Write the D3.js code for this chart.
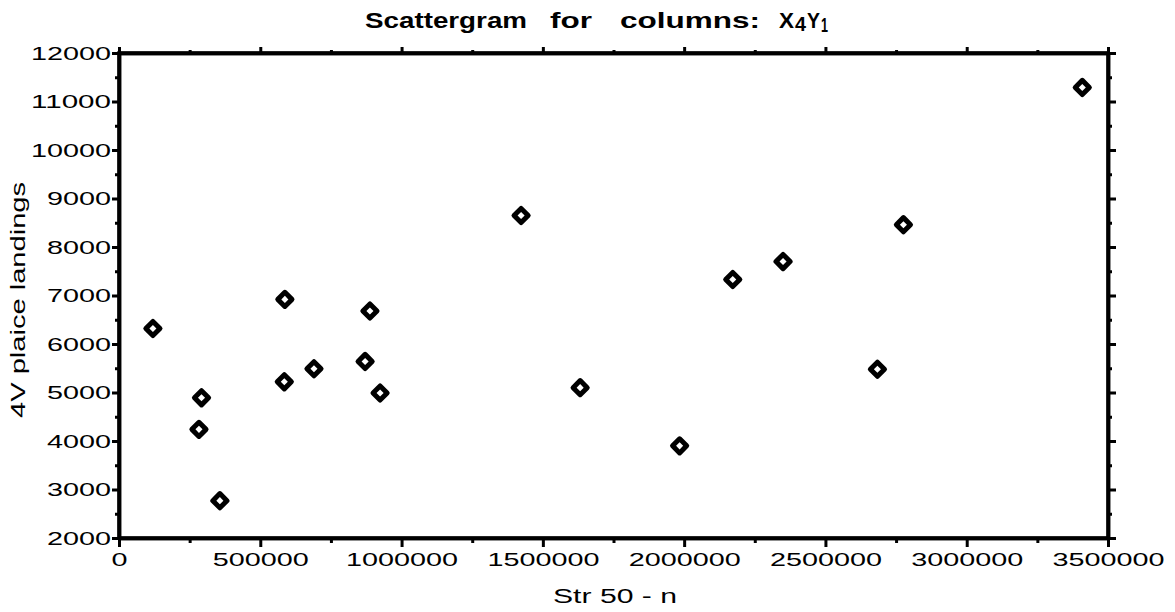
<!DOCTYPE html>
<html>
<head>
<meta charset="utf-8">
<script src="https://cdn.jsdelivr.net/npm/d3@7"></script>
<style>
  html, body { margin: 0; padding: 0; background: #fff; }
  svg { display: block; }
  text { font-family: "Liberation Sans", Arial, sans-serif; fill: #000; }
</style>
</head>
<body>
<svg id="chart" width="1175" height="612"></svg>
<script>
// ---- data ----
const strValues   = [120000, 292000, 283000, 357000, 587000, 585000, 690000, 871000, 888000, 924000,
                     1423000, 1632000, 1984000, 2172000, 2350000, 2684000, 2776000, 3409000];
const plaiceValues = [6320, 4890, 4240, 2770, 6920, 5220, 5490, 5640, 6680, 4990,
                      8650, 5100, 3900, 7330, 7700, 5480, 8460, 11290];
const xMajorTicks = [0, 500000, 1000000, 1500000, 2000000, 2500000, 3000000, 3500000];
const xMinorTicks = [250000, 750000, 1250000, 1750000, 2250000, 2750000, 3250000];
const yMajorTicks = [2000, 3000, 4000, 5000, 6000, 7000, 8000, 9000, 10000, 11000, 12000];
const yMinorTicks = [2500, 3500, 4500, 5500, 6500, 7500, 8500, 9500, 10500, 11500];
const xTitle = "Str 50 - n";
const yTitle = "4V plaice landings";

// ---- layout ----
const svg = d3.select("#chart");
const L = 119, R = 1108, T = 53, B = 538;
const x = d3.scaleLinear().domain([0, 3500000]).range([L, R]);
const y = d3.scaleLinear().domain([2000, 12000]).range([B, T]);

function styleAxis(g, sw) {
  g.selectAll(".domain").attr("stroke", "#000").attr("stroke-width", 3.5);
  g.selectAll(".tick line").attr("stroke", "#000").attr("stroke-width", sw);
  g.selectAll(".tick text").attr("fill", "#000");
}
const CH = 16; // advance per character in tick labels

// left axis
const gl = svg.append("g").attr("transform", `translate(${L},0)`)
  .call(d3.axisLeft(y).tickValues(yMajorTicks).tickSize(7).tickSizeOuter(0).tickPadding(1).tickFormat(d3.format("d")));
styleAxis(gl, 3);
gl.selectAll(".tick text").attr("font-size", 19)
  .attr("textLength", d => String(d).length * CH).attr("lengthAdjust", "spacingAndGlyphs");
const glm = svg.append("g").attr("transform", `translate(${L},0)`)
  .call(d3.axisLeft(y).tickValues(yMinorTicks).tickSize(4).tickSizeOuter(0).tickFormat(""));
styleAxis(glm, 3);

// right axis
const gr = svg.append("g").attr("transform", `translate(${R},0)`)
  .call(d3.axisRight(y).tickValues(yMajorTicks).tickSize(8).tickSizeOuter(0).tickFormat(""));
styleAxis(gr, 3);
const grm = svg.append("g").attr("transform", `translate(${R},0)`)
  .call(d3.axisRight(y).tickValues(yMinorTicks).tickSize(4).tickSizeOuter(0).tickFormat(""));
styleAxis(grm, 3);

// bottom axis
const gb = svg.append("g").attr("transform", `translate(0,${B})`)
  .call(d3.axisBottom(x).tickValues(xMajorTicks).tickSize(9).tickSizeOuter(0).tickPadding(6).tickFormat(d3.format("d")));
styleAxis(gb, 3);
gb.selectAll(".tick text").attr("font-size", 19)
  .attr("textLength", d => String(d).length * CH).attr("lengthAdjust", "spacingAndGlyphs");
const gbm = svg.append("g").attr("transform", `translate(0,${B})`)
  .call(d3.axisBottom(x).tickValues(xMinorTicks).tickSize(5).tickSizeOuter(0).tickFormat(""));
styleAxis(gbm, 3);

// top axis
const gt = svg.append("g").attr("transform", `translate(0,${T})`)
  .call(d3.axisTop(x).tickValues(xMajorTicks).tickSize(6).tickSizeOuter(0).tickFormat(""));
styleAxis(gt, 3);
const gtm = svg.append("g").attr("transform", `translate(0,${T})`)
  .call(d3.axisTop(x).tickValues(xMinorTicks).tickSize(3).tickSizeOuter(0).tickFormat(""));
styleAxis(gtm, 3);

// closed frame
svg.append("rect").attr("x", L).attr("y", T).attr("width", R - L).attr("height", B - T)
  .attr("fill", "none").attr("stroke", "#000").attr("stroke-width", 3.5);

// ---- points ----
const pts = strValues.map((v, i) => ({ x: v, y: plaiceValues[i] }));
const sym = d3.symbol().type(d3.symbolSquare).size(100);
svg.append("g").selectAll("path").data(pts).join("path")
  .attr("d", sym)
  .attr("transform", d => `translate(${x(d.x)},${y(d.y)}) rotate(45)`)
  .attr("fill", "#fff").attr("stroke", "#000").attr("stroke-width", 5)
  .attr("stroke-linejoin", "round");

// ---- titles ----
const titleWords = [
  { t: "Scattergram", x0: 365, w: 162, dy: 0, fs: 22 },
  { t: "for", x0: 550, w: 42, dy: 0, fs: 22 },
  { t: "columns:", x0: 620, w: 140, dy: 0, fs: 22 },
  { t: "X", x0: 779, w: 15, dy: 0, fs: 22 },
  { t: "4", x0: 795, w: 11, dy: 3, fs: 20 },
  { t: "Y", x0: 807, w: 13, dy: 0, fs: 22 },
  { t: "1", x0: 821, w: 7, dy: 4, fs: 20 }
];
svg.append("g").selectAll("text").data(titleWords).join("text")
  .attr("x", d => d.x0).attr("y", d => 28 + d.dy)
  .attr("font-size", d => d.fs).attr("font-weight", "bold")
  .attr("textLength", d => d.w).attr("lengthAdjust", "spacingAndGlyphs")
  .text(d => d.t);

svg.append("text").attr("x", 615).attr("y", 603)
  .attr("text-anchor", "middle").attr("font-size", 20)
  .attr("textLength", 124).attr("lengthAdjust", "spacingAndGlyphs")
  .text(xTitle);

svg.append("text")
  .attr("transform", "translate(25,300) rotate(-90)")
  .attr("text-anchor", "middle").attr("font-size", 20)
  .attr("textLength", 236).attr("lengthAdjust", "spacingAndGlyphs")
  .text(yTitle);
</script>
</body>
</html>
